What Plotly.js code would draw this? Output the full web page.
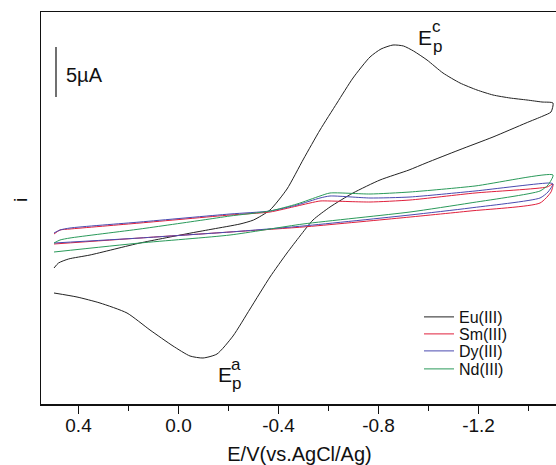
<!DOCTYPE html>
<html>
<head>
<meta charset="utf-8">
<script src="https://cdn.plot.ly/plotly-3.0.1.min.js"></script>
<style>html,body{margin:0;padding:0;overflow:hidden;background:#fff;}#chart{width:556px;height:465px;}</style>
</head>
<body>
<div id="chart"></div>
<script>
// Potential (V vs AgCl/Ag) and current (µA, arbitrary zero)
const euE = [0.498,0.48,0.44,0.354,0.154,-0.05,-0.138,-0.246,-0.30,-0.366,-0.434,-0.50,-0.566,-0.634,-0.698,-0.766,-0.81,-0.858,-0.90,-0.94,-0.994,-1.058,-1.126,-1.194,-1.258,-1.326,-1.394,-1.454,-1.498,
  -1.49,-1.458,-1.39,-1.258,-1.122,-0.99,-0.922,-0.806,-0.698,-0.606,-0.538,-0.486,-0.434,-0.366,-0.286,-0.218,-0.154,-0.098,-0.046,0.022,0.114,0.206,0.314,0.406,0.498];
const euI = [-5.6,-5.1,-4.7,-4.3,-3.1,-2.1,-1.7,-1.2,-0.8,0.2,2.3,5.3,8.2,10.9,13.4,15.5,16.3,16.7,16.6,16.1,15.2,13.9,12.9,12.2,11.7,11.4,11.2,11.0,10.9,
  10.0,9.6,8.9,7.5,6.2,4.9,4.2,3.2,1.9,0.5,-0.8,-2.4,-4.1,-6.5,-9.7,-12.4,-14.2,-14.6,-14.4,-13.4,-11.8,-10.1,-9.1,-8.5,-8.1];

const smE = [0.498,0.474,0.434,0.154,-0.206,-0.366,-0.474,-0.566,-0.606,-0.766,-0.926,-1.186,-1.474,-1.498,
  -1.49,-1.446,-1.166,-0.886,-0.498,-0.206,0.154,0.498];
const smI = [-2.2,-1.8,-1.7,-1.1,-0.3,0.0,0.6,1.1,1.1,1.0,1.2,1.9,2.5,2.8,
  2.0,0.9,0.1,-0.6,-1.5,-2.0,-2.6,-3.2];

const dyE = [0.498,0.474,0.434,0.154,-0.206,-0.366,-0.474,-0.566,-0.606,-0.766,-0.926,-1.186,-1.486,-1.498,
  -1.478,-1.446,-1.166,-0.926,-0.498,-0.206,0.154,0.498];
const dyI = [-2.1,-1.8,-1.6,-1.0,-0.2,0.1,0.7,1.4,1.6,1.4,1.5,2.1,2.9,2.8,
  2.0,1.4,0.4,-0.3,-1.4,-2.0,-2.6,-3.1];

const ndE = [0.498,0.474,0.434,0.154,-0.098,-0.206,-0.366,-0.474,-0.566,-0.606,-0.766,-0.926,-1.186,-1.498,
  -1.478,-1.446,-1.166,-0.926,-0.498,-0.206,0.154,0.498];
const ndI = [-3.1,-2.8,-2.6,-1.7,-0.8,-0.4,0.1,0.8,1.6,1.9,1.8,2.0,2.6,3.7,
  2.7,2.1,0.9,0.0,-1.2,-2.3,-3.1,-4.0];

const seriesNames = ['Eu(III)','Sm(III)','Dy(III)','Nd(III)'];
const seriesColors = ['#222222','#e0203c','#4a4ab0','#2a9a5a'];
const tickVals = [0.4,0.0,-0.4,-0.8,-1.2];
const tickLabels = ['0.4','0.0','-0.4','-0.8','-1.2'];
const minorVals = [0.2,-0.2,-0.6,-1.0,-1.4];

const FONT = 'Liberation Sans, Arial, sans-serif';
const W = 560, H = 465;
const L = 41, T = 12, PW = 517, PH = 392;
const px = v => (v - L) / PW;
const py = v => (T + PH - v) / PH;

const legendIds = ['legend','legend2','legend3','legend4'];
const legendRows = [317, 334, 351, 369];

const xs = [euE, smE, dyE, ndE], ys = [euI, smI, dyI, ndI];
const traces = xs.map((x, k) => ({
  x: x, y: ys[k], name: seriesNames[k], type: 'scatter', mode: 'lines', legend: legendIds[k],
  line: {color: seriesColors[k], width: 1, shape: 'spline', smoothing: 0.6}
}));

const layout = {
  width: W, height: H,
  margin: {l: L, r: W - L - PW, t: T, b: H - T - PH},
  paper_bgcolor: '#fff', plot_bgcolor: '#fff',
  font: {family: FONT, color: '#111'},
  showlegend: true,
  xaxis: {range: [0.55, -1.518], showgrid: false, zeroline: false, showline: true, mirror: true,
    linecolor: '#111', linewidth: 1.5, ticks: 'outside', ticklen: 8, tickwidth: 1.2, tickcolor: '#111',
    tickmode: 'array', tickvals: tickVals, ticktext: tickLabels, ticklabelstandoff: -4,
    tickfont: {family: FONT, size: 19, color: '#111'},
    minor: {tickmode: 'array', tickvals: minorVals, ticks: 'outside', ticklen: 5, tickwidth: 1.2, tickcolor: '#111'},
    title: {text: 'E/V(vs.AgCl/Ag)', font: {family: FONT, size: 20, color: '#111'}, standoff: 22}},
  yaxis: {range: [-19.2, 20], showgrid: false, zeroline: false, showline: true, mirror: true,
    linecolor: '#111', linewidth: 1.5, showticklabels: false, ticks: ''},
  shapes: [
    {type: 'line', xref: 'paper', yref: 'paper', x0: px(56), x1: px(56), y0: py(47), y1: py(97),
     line: {color: '#111', width: 1.2}}
  ],
  annotations: [
    {text: '5µA', x: px(64), y: py(75), xanchor: 'left', size: 20},
    {text: 'i', x: px(20), y: py(200), textangle: -90, size: 19},
    {text: 'E', x: px(425), y: py(37), size: 21},
    {text: 'c', x: px(436), y: py(27), size: 17},
    {text: 'p', x: px(437), y: py(46), size: 17},
    {text: 'E', x: px(224.5), y: py(374), size: 21},
    {text: 'a', x: px(236), y: py(364), size: 17},
    {text: 'p', x: px(236), y: py(383), size: 17}
  ].map(a => ({text: a.text, xref: 'paper', yref: 'paper', x: a.x, y: a.y,
    xanchor: a.xanchor || 'center', yanchor: 'middle', textangle: a.textangle || 0, showarrow: false,
    font: {family: FONT, size: a.size, color: '#111'}}))
};
legendIds.forEach((id, k) => {
  layout[id] = {x: px(419), y: py(legendRows[k] - 17), xanchor: 'left', yanchor: 'top',
    bgcolor: 'rgba(0,0,0,0)', font: {family: FONT, size: 16, color: '#111'}, itemwidth: 30};
});

Plotly.newPlot('chart', traces, layout, {displayModeBar: false, staticPlot: true});
</script>
</body>
</html>
